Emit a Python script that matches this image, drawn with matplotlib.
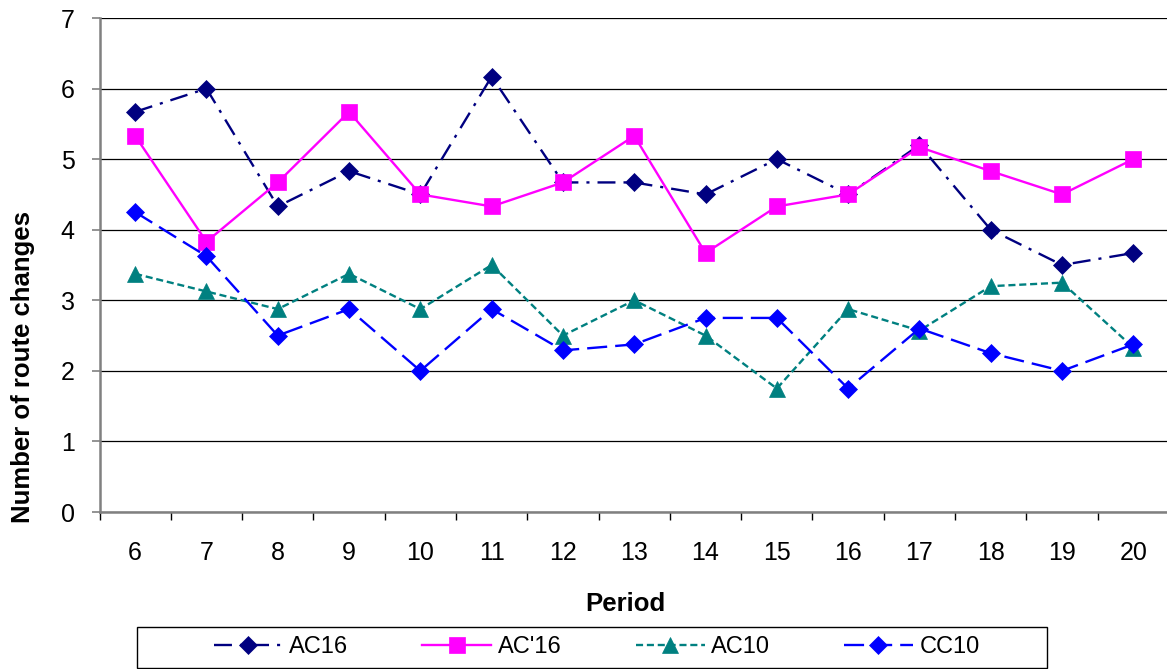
import matplotlib
matplotlib.use("Agg")
import matplotlib.pyplot as plt
from matplotlib.patches import Rectangle

plt.rcParams['font.family'] = ['Liberation Sans', 'DejaVu Sans']

periods = [6, 7, 8, 9, 10, 11, 12, 13, 14, 15, 16, 17, 18, 19, 20]
ac16 = [5.67, 6.0, 4.33, 4.83, 4.5, 6.17, 4.67, 4.67, 4.5, 5.0, 4.5, 5.2, 4.0, 3.5, 3.67]
ac16p = [5.33, 3.83, 4.67, 5.67, 4.5, 4.33, 4.67, 5.33, 3.67, 4.33, 4.5, 5.17, 4.83, 4.5, 5.0]
ac10 = [3.375, 3.125, 2.875, 3.375, 2.875, 3.5, 2.5, 3.0, 2.5, 1.75, 2.875, 2.57, 3.2, 3.25, 2.33]
cc10 = [4.25, 3.625, 2.5, 2.875, 2.0, 2.875, 2.29, 2.375, 2.75, 2.75, 1.75, 2.6, 2.25, 2.0, 2.375]
series_names = ["AC16", "AC'16", "AC10", "CC10"]
yticks = [0, 1, 2, 3, 4, 5, 6, 7]

W, H = 1167, 669
fig = plt.figure(figsize=(W / 100, H / 100), dpi=100)
ax = fig.add_axes([99.5 / W, (H - 512) / H, 1069.5 / W, 494 / H])

lw = 1.7
styles = [
    dict(color='#000080', marker='D', ms=9, dashes=(7.6, 3.4, 1.3, 3.4)),
    dict(color='#FF00FF', marker='s', ms=11.5, linestyle='-'),
    dict(color='#008080', marker='^', ms=11.5, dashes=(3.0, 1.6)),
    dict(color='#0000FF', marker='D', ms=9, dashes=(8.5, 3.4)),
]
data = [ac16, ac16p, ac10, cc10]
handles = []
for vals, st, name in zip(data, styles, series_names):
    kw = dict(st)
    ln, = ax.plot(periods, vals, lw=lw, markeredgecolor=kw['color'],
                  markerfacecolor=kw['color'], markeredgewidth=0.5,
                  label=name, zorder=3, **kw)
    handles.append(ln)

ax.set_xlim(5.5, 20.5)
ax.set_ylim(0, 7)
ax.set_yticks(yticks)
ax.set_xticks(periods)
ax.set_xticklabels([str(p) for p in periods])
ax.set_xticks([p + 0.5 for p in [5] + periods], minor=True)
ax.tick_params(axis='x', which='major', length=0, pad=21, labelsize=18)
ax.tick_params(axis='x', which='minor', length=5.8, width=1.0, color='#000000', direction='out')
ax.tick_params(axis='y', which='major', length=5.8, width=1.2, color='#808080', pad=12, labelsize=18)
ax.yaxis.grid(True, color='#000000', lw=0.9)
ax.set_axisbelow(True)
for s in ['top', 'right']:
    ax.spines[s].set_visible(False)
for s in ['left', 'bottom']:
    ax.spines[s].set_color('#808080')
    ax.spines[s].set_linewidth(1.8)
ax.spines['bottom'].set_zorder(2.5)

fig.text(22.7 / W, 1 - 367 / H, 'Number of route changes', rotation=90,
         ha='center', va='center', fontsize=18.5, fontweight='bold')
fig.text(625 / W, 1 - 604 / H, 'Period', ha='center', va='center',
         fontsize=18.5, fontweight='bold')

leg = fig.legend(handles, series_names, loc='center',
                 bbox_to_anchor=(596.8 / W, 1 - 647 / H), ncol=4, frameon=False,
                 fontsize=17, handlelength=2.92, handletextpad=0.28,
                 columnspacing=3.13, borderpad=0, borderaxespad=0)
fig.add_artist(Rectangle((136.7 / W, 1 - 668.3 / H), 910 / W, 41.6 / H,
                         transform=fig.transFigure, fill=False,
                         edgecolor='#000000', lw=1.0))

fig.savefig('out.png', dpi=100)
